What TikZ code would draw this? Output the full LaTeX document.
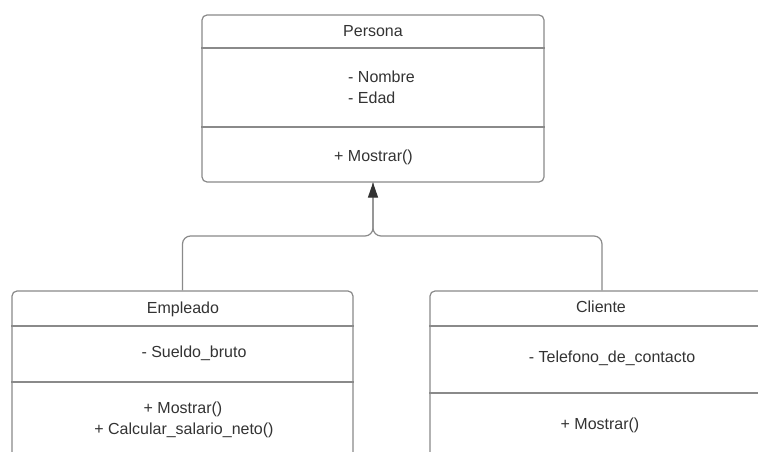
\documentclass[tikz,border=0pt]{standalone}
\usepackage{fontspec}
\setmainfont{Liberation Sans}
\usetikzlibrary{arrows.meta}
\definecolor{edge}{HTML}{8A8A8A}
\definecolor{ink}{HTML}{333333}
\begin{document}
\begin{tikzpicture}[x=1pt,y=-1pt,
  classbox/.style={draw=edge,line width=1.2pt,rounded corners=5pt,inner sep=0pt},
  divider/.style={draw=edge,line width=1.2pt},
  label/.style={text=ink,inner sep=0pt,anchor=base,font=\fontsize{16}{19}\selectfont},
  labelw/.style={label,anchor=base west},
  link/.style={draw=edge,line width=1.2pt,rounded corners=8pt},
  tip/.style={-{Triangle[length=15pt,width=10pt,color=ink,fill=ink]}}]
\useasboundingbox (0,0) rectangle (758,452);
\clip (0,0) rectangle (758,452);
\fill[white] (0,0) rectangle (758,452);

% class boxes
\node[classbox,minimum width=342pt,minimum height=167pt] (persona) at (373,98.5) {};
\node[classbox,minimum width=341pt,minimum height=180pt] (empleado) at (182.5,381) {};
\node[classbox,minimum width=344pt,minimum height=180pt] (cliente) at (602,381) {};

% compartment separators
\draw[divider] (persona.west |- 0,48) -- (persona.east |- 0,48);
\draw[divider] (persona.west |- 0,127) -- (persona.east |- 0,127);
\draw[divider] (empleado.west |- 0,326) -- (empleado.east |- 0,326);
\draw[divider] (empleado.west |- 0,382) -- (empleado.east |- 0,382);
\draw[divider] (cliente.west |- 0,326) -- (cliente.east |- 0,326);
\draw[divider] (cliente.west |- 0,393) -- (cliente.east |- 0,393);

% Persona
\node[label] (pname) at (373,37) {Persona};
\node[labelw] (pattr1) at (348,82) {- Nombre};
\node[labelw] (pattr2) at (348,103) {- Edad};
\node[label] (pop1) at (373.5,161) {+ Mostrar()};

% Empleado
\node[label] (ename) at (183,313) {Empleado};
\node[label] (eattr1) at (194,357) {- Sueldo\_bruto};
\node[label] (eop1) at (183,413) {+ Mostrar()};
\node[label] (eop2) at (184,434) {+ Calcular\_salario\_neto()};

% Cliente
\node[label] (cname) at (601,312) {Cliente};
\node[label] (cattr1) at (612,362) {- Telefono\_de\_contacto};
\node[label] (cop1) at (600,429) {+ Mostrar()};

% generalisation
\coordinate (join) at (persona.south |- 0,236);
\draw[link] (empleado.north) |- (join) -- (persona.south);
\draw[link,tip] (cliente.north) |- (join) -- (persona.south);
\end{tikzpicture}
\end{document}
